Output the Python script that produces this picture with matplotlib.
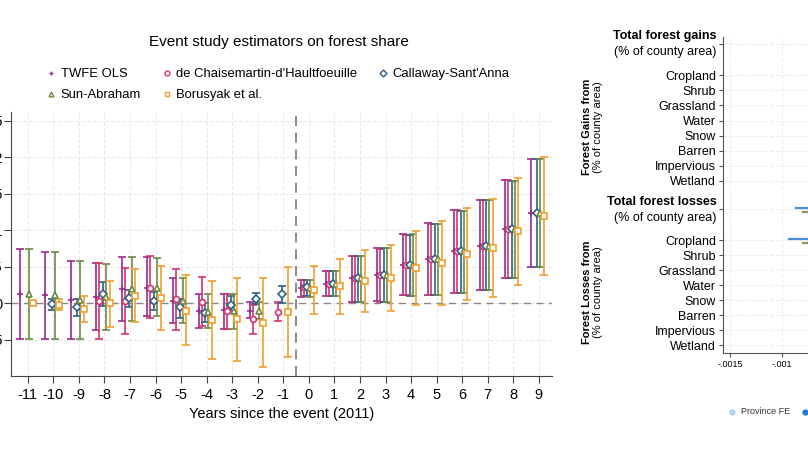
import numpy as np
import matplotlib
matplotlib.use("Agg")
import matplotlib.pyplot as plt
from matplotlib.lines import Line2D
from matplotlib.transforms import blended_transform_factory

plt.rcParams['font.family'] = ['Liberation Sans', 'DejaVu Sans']

nan = np.nan
periods = list(range(-11, 10))

# point estimate, lower, upper (nan = not estimated)
twfe = [0.0012, 0.0011, 0.0004, 0.0008, 0.0019, 0.0021, 0.0003, -0.0011, -0.0010, -0.0011, nan,
        0.0021, 0.0026, 0.0035, 0.0038, 0.0052, 0.0060, 0.0071, 0.0079, 0.0102, 0.0124]
twfe_lo = [-0.0049, -0.0049, -0.0049, -0.0037, -0.0024, -0.0018, -0.0027, -0.0034, -0.0036, -0.0021, nan,
           0.0009, 0.0010, 0.0002, 0.0003, 0.0011, 0.0011, 0.0014, 0.0018, 0.0035, 0.0050]
twfe_hi = [0.0074, 0.0070, 0.0058, 0.0055, 0.0063, 0.0063, 0.0034, 0.0012, 0.0013, 0.0002, nan,
           0.0032, 0.0044, 0.0064, 0.0075, 0.0095, 0.0110, 0.0128, 0.0141, 0.0169, 0.0197]

dcdh = [nan, nan, nan, 0.0003, 0.0003, 0.0021, 0.0005, 0.0002, -0.0011, -0.0022, -0.0012,
        0.0022, 0.0026, 0.0035, 0.0038, 0.0052, 0.0060, 0.0071, 0.0079, 0.0102, nan]
dcdh_lo = [nan, nan, nan, -0.0049, -0.0043, -0.0021, -0.0037, -0.0032, -0.0036, -0.0043, -0.0025,
           0.0010, 0.0010, 0.0002, 0.0002, 0.0011, 0.0011, 0.0014, 0.0018, 0.0035, nan]
dcdh_hi = [nan, nan, nan, 0.0055, 0.0048, 0.0065, 0.0047, 0.0036, 0.0013, -0.0002, 0.0002,
           0.0032, 0.0044, 0.0064, 0.0074, 0.0094, 0.0109, 0.0128, 0.0141, 0.0169, nan]

cs = [nan, -0.0001, -0.0006, 0.0012, 0.0007, 0.0003, -0.0005, -0.0014, -0.0002, 0.0006, 0.0012,
      0.0022, 0.0026, 0.0035, 0.0038, 0.0052, 0.0060, 0.0071, 0.0079, 0.0102, 0.0124]
cs_lo = [nan, -0.0010, -0.0018, -0.0004, -0.0005, -0.0010, -0.0021, -0.0026, -0.0012, -0.0001, 0.0000,
         0.0010, 0.0010, 0.0002, 0.0002, 0.0010, 0.0011, 0.0014, 0.0018, 0.0035, 0.0050]
cs_hi = [nan, 0.0006, 0.0005, 0.0029, 0.0018, 0.0015, 0.0005, 0.0000, 0.0010, 0.0014, 0.0024,
         0.0032, 0.0044, 0.0065, 0.0075, 0.0093, 0.0109, 0.0127, 0.0141, 0.0168, 0.0197]

sa = [0.0012, 0.0011, 0.0004, 0.0009, 0.0019, 0.0021, 0.0003, -0.0012, -0.0011, -0.0011, nan,
      0.0021, 0.0026, 0.0035, 0.0038, 0.0052, 0.0060, 0.0071, 0.0079, 0.0102, 0.0124]
sa_lo = [-0.0049, -0.0049, -0.0049, -0.0037, -0.0024, -0.0018, -0.0027, -0.0034, -0.0036, -0.0022, nan,
         0.0009, 0.0010, 0.0002, 0.0002, 0.0010, 0.0011, 0.0014, 0.0018, 0.0035, 0.0050]
sa_hi = [0.0074, 0.0070, 0.0058, 0.0053, 0.0063, 0.0062, 0.0034, 0.0012, 0.0013, 0.0002, nan,
         0.0032, 0.0044, 0.0064, 0.0075, 0.0095, 0.0109, 0.0127, 0.0141, 0.0168, 0.0197]

bjs = [0.0000, -0.0002, -0.0008, 0.0000, 0.0010, 0.0007, -0.0011, -0.0023, -0.0022, -0.0027, -0.0012,
       0.0018, 0.0023, 0.0030, 0.0035, 0.0048, 0.0055, 0.0067, 0.0075, 0.0099, 0.0120]
bjs_lo = [0.0000, -0.0010, -0.0026, -0.0033, -0.0026, -0.0037, -0.0058, -0.0077, -0.0080, -0.0088, -0.0074,
          -0.0015, -0.0015, -0.0012, -0.0011, -0.0002, -0.0002, 0.0004, 0.0008, 0.0025, 0.0039]
bjs_hi = [0.0000, 0.0006, 0.0010, 0.0031, 0.0047, 0.0051, 0.0038, 0.0031, 0.0035, 0.0034, 0.0050,
          0.0051, 0.0060, 0.0073, 0.0080, 0.0099, 0.0113, 0.0130, 0.0143, 0.0172, 0.0201]

names = ["TWFE OLS", "de Chaisemartin-d'Haultfoeuille", "Callaway-Sant'Anna", "Sun-Abraham", "Borusyak et al."]

yticks = [-0.005, 0, 0.005, 0.01, 0.015, 0.02, 0.025]
ytick_labels = ['-.005', '0', '.005', '.01', '.015', '.02', '.025']

# right panel
right_labels = ['Cropland', 'Shrub', 'Grassland', 'Water', 'Snow', 'Barren', 'Impervious', 'Wetland']
loss_total_lo = [-0.000865, -0.00080]   # Province FE, second model
loss_crop_lo = [-0.00093, -0.00080]
right_xticks = [-0.0015, -0.001]
right_xtick_labels = ['-.0015', '-.001']

fig = plt.figure(figsize=(8.08, 4.55), dpi=100)

# ---------------- left panel ----------------
ax = fig.add_axes([11 / 808, 0.1736, 0.669, 0.58])
x = np.array(periods, dtype=float)
series = [
    (twfe, twfe_lo, twfe_hi, '#9b2a8f', '+', -0.32),
    (dcdh, dcdh_lo, dcdh_hi, '#d6336a', 'o', -0.20),
    (cs, cs_lo, cs_hi, '#2f5f8a', 'D', -0.06),
    (sa, sa_lo, sa_hi, '#6b8a45', '^', 0.06),
    (bjs, bjs_lo, bjs_hi, '#f0a030', 's', 0.20),
]
handles = []
for (pt, lo, hi, col, mk, off), nm in zip(series, names):
    pt = np.array(pt); lo = np.array(lo); hi = np.array(hi)
    ok = ~np.isnan(pt)
    err = np.vstack([pt[ok] - lo[ok], hi[ok] - pt[ok]])
    ms = 5 if mk == '+' else 4.2
    ax.errorbar(x[ok] + off, pt[ok], yerr=err, fmt='none', ecolor=col, elinewidth=1.2,
                capsize=2.8, capthick=1.2, zorder=3)
    ax.plot(x[ok] + off, pt[ok], linestyle='none', marker=mk, ms=ms, mec=col,
            mfc='white' if mk != '+' else col, mew=1.2, zorder=4)
    handles.append(Line2D([], [], linestyle='none', marker=mk, ms=3.5, mec=col,
                          mfc='white' if mk != '+' else col, mew=1.0, label=nm))

ax.axhline(0, color='#888888', lw=1, ls=(0, (5, 4)), zorder=2)
ax.axvline(-0.5, color='#777777', lw=1.2, ls=(0, (6, 4)), zorder=2)
ax.set_xlim(-11.66, 9.5)
ax.set_ylim(-0.01, 0.0262)
ax.set_xticks(periods)
ax.set_xticklabels([str(p) for p in periods], fontsize=10.5)
ax.set_yticks(yticks)
ax.set_yticklabels(ytick_labels, fontsize=10.5)
ax.grid(True, color='#e6e6e6', lw=0.7, ls=(0, (4, 2)))
ax.set_axisbelow(True)
for s in ['top', 'right']:
    ax.spines[s].set_visible(False)
for s in ['left', 'bottom']:
    ax.spines[s].set_color('#444444')
ax.tick_params(color='#444444', length=5)
ax.tick_params(axis='y', pad=1)
ax.set_xlabel('Years since the event (2011)', fontsize=10.5, labelpad=4)

fig.text(0.345, 1 - 42 / 455, 'Event study estimators on forest share', ha='center', va='center', fontsize=11)
order = [0, 3, 1, 4, 2]
fig.legend([handles[i] for i in order], [names[i] for i in order], ncol=3, frameon=False,
           loc='upper left', bbox_to_anchor=(0.047, 1 - 59 / 455), fontsize=9.4,
           handlelength=0.6, handletextpad=0.45, columnspacing=1.65, labelspacing=0.68,
           borderpad=0.2)

# ---------------- right panel ----------------
ax2 = fig.add_axes([723 / 808, 1 - 353 / 455, 0.649, 316 / 455])
gain_pos = [2.1 + i for i in range(8)]
loss_pos = [13.05 + i for i in range(8)]
ytk = [0] + gain_pos + [11.0] + loss_pos
ax2.set_ylim(20.55, -0.45)
ax2.set_xlim(-0.00157, 0.0035)
ax2.set_yticks(ytk)
ax2.set_yticklabels([''] + right_labels + [''] + right_labels, fontsize=9)
ax2.set_xticks(right_xticks)
ax2.set_xticklabels(right_xtick_labels, fontsize=6.5)
ax2.grid(True, color='#ececec', lw=0.7, ls=(0, (4, 2)))
ax2.set_axisbelow(True)
for s in ['top', 'right']:
    ax2.spines[s].set_visible(False)
ax2.spines['left'].set_color('#555555')
ax2.spines['bottom'].set_color('#555555')
ax2.tick_params(color='#555555', length=3, pad=2)

tr = blended_transform_factory(ax2.transAxes, ax2.transData)
for ypos, title in [(0, 'Total forest gains'), (11.0, 'Total forest losses')]:
    ax2.text(-0.012, ypos - 0.5, title, transform=tr, ha='right', va='center', fontsize=9, fontweight='bold')
    ax2.text(-0.012, ypos + 0.55, '(% of county area)', transform=tr, ha='right', va='center', fontsize=9)

line_cols = ['#4a90d9', '#8a9468']
for k, (lt, lc) in enumerate(zip(loss_total_lo, loss_crop_lo)):
    dy = -0.08 + 0.26 * k
    ax2.plot([lt, 0.0008], [11.0 + dy, 11.0 + dy], color=line_cols[k], lw=1.6)
    ax2.plot([lc, 0.0008], [13.05 + dy, 13.05 + dy], color=line_cols[k], lw=1.6)

fig.text(587 / 808, 1 - 127 / 455, 'Forest Gains from', rotation=90, ha='center', va='center', fontsize=8, fontweight='bold')
fig.text(598 / 808, 1 - 127 / 455, '(% of county area)', rotation=90, ha='center', va='center', fontsize=8)
fig.text(587 / 808, 1 - 292 / 455, 'Forest Losses from', rotation=90, ha='center', va='center', fontsize=8, fontweight='bold')
fig.text(598 / 808, 1 - 292 / 455, '(% of county area)', rotation=90, ha='center', va='center', fontsize=8)

fig.lines.append(Line2D([732 / 808], [1 - 412 / 455], transform=fig.transFigure, marker='o', ms=3.5,
                        color='#a8d4ec', linestyle='none'))
fig.text(741 / 808, 1 - 412 / 455, 'Province FE', ha='left', va='center', fontsize=6.5, color='#333333')
fig.lines.append(Line2D([805 / 808], [1 - 412 / 455], transform=fig.transFigure, marker='o', ms=3.5,
                        color='#1e78d8', linestyle='none'))

fig.savefig('out.png', dpi=100)
